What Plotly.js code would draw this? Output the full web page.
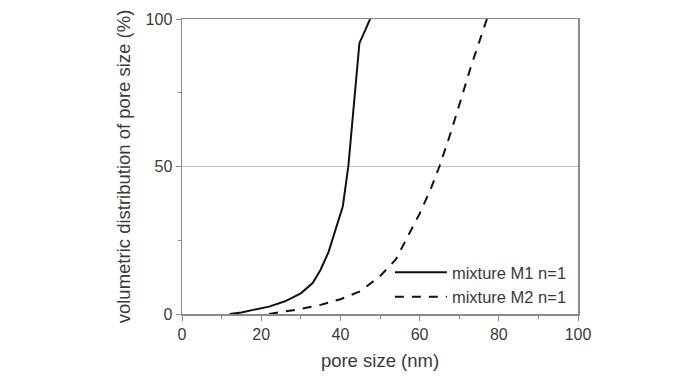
<!DOCTYPE html>
<html>
<head>
<meta charset="utf-8">
<script src="https://cdn.plot.ly/plotly-3.0.1.min.js"></script>
<style>html,body{margin:0;padding:0;background:#fff;}#chart{width:692px;height:376px;}</style>
</head>
<body>
<div id="chart"></div>
<script>
// pore size (nm) and volumetric distribution (%)
const m1X = [12, 15, 18, 22, 26, 30, 33, 35, 37, 39, 40.6, 42, 43.5, 44.8, 46, 47.5];
const m1Y = [0, 0.5, 1.4, 2.5, 4.3, 7, 10.5, 15, 21, 30, 36.4, 50, 72, 91.8, 95.4, 100];
const m2X = [22, 25, 30, 35, 40, 45, 50, 54, 57, 60, 63, 65, 68, 70, 73, 75, 77];
const m2Y = [0, 0.6, 1.7, 3.1, 5, 7.7, 12.8, 18.5, 26, 34, 43, 50, 62, 71, 84, 92, 100];
const seriesNames = ["mixture M1 n=1", "mixture M2 n=1"];
const xTitle = "pore size (nm)";
const yTitle = "volumetric distribution of pore size (%)";

const textColor = "#3a3a3a";
const axisColor = "#8a8a8a";
const font = "Liberation Sans, Arial, sans-serif";

const traces = [
  {x: m1X, y: m1Y, name: seriesNames[0], mode: "lines", type: "scatter",
   line: {color: "#111", width: 2, dash: "solid"}},
  {x: m2X, y: m2Y, name: seriesNames[1], mode: "lines", type: "scatter",
   line: {color: "#111", width: 2, dash: "9px,8px"}}
];

const layout = {
  width: 692, height: 376,
  margin: {l: 182, r: 114, t: 19, b: 62},
  paper_bgcolor: "#fff", plot_bgcolor: "#fff",
  font: {family: font, color: textColor, size: 16},
  showlegend: true,
  legend: {x: 0.525, y: 0.0, xanchor: "left", yanchor: "bottom",
           bgcolor: "rgba(0,0,0,0)", font: {size: 16.5, color: textColor},
           tracegroupgap: 0, itemwidth: 52},
  xaxis: {
    range: [0, 100], tickvals: [0, 20, 40, 60, 80, 100],
    ticks: "outside", ticklen: 5, tickcolor: axisColor, tickwidth: 1,
    minor: {dtick: 10, ticks: "outside", ticklen: 3, tickcolor: axisColor, showgrid: false},
    showline: true, linecolor: axisColor, linewidth: 1.5, mirror: true,
    showgrid: false, zeroline: false,
    tickfont: {size: 16, color: textColor},
    title: {text: xTitle, font: {size: 18.5, color: textColor}, standoff: 12}
  },
  yaxis: {
    range: [0, 100], tickvals: [0, 50, 100],
    ticks: "outside", ticklen: 5, tickcolor: axisColor, tickwidth: 1,
    minor: {dtick: 25, ticks: "outside", ticklen: 3, tickcolor: axisColor, showgrid: false},
    showline: true, linecolor: axisColor, linewidth: 1.5, mirror: true,
    showgrid: true, gridcolor: "#c4c4c4", gridwidth: 1.2, zeroline: false,
    tickfont: {size: 16, color: textColor},
    title: {text: yTitle, font: {size: 18.5, color: textColor}, standoff: 10}
  }
};

Plotly.newPlot("chart", traces, layout, {displayModeBar: false, staticPlot: true});
</script>
</body>
</html>
